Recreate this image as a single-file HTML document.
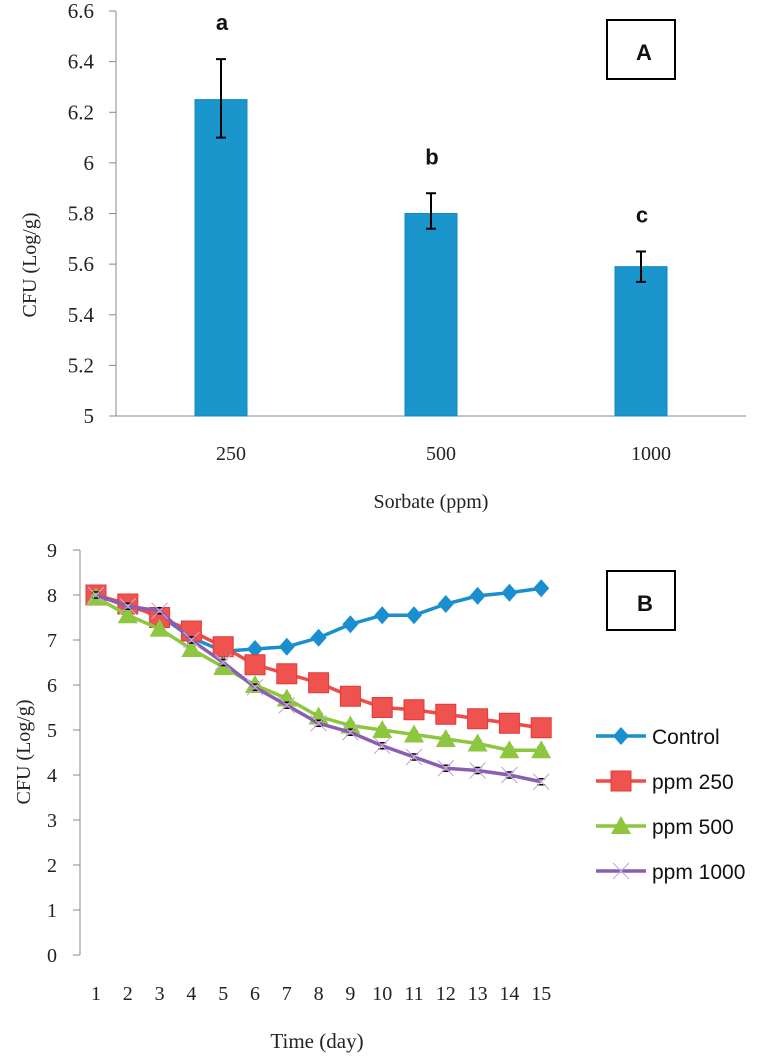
<!DOCTYPE html>
<html><head><meta charset="utf-8"><style>
body{margin:0;background:#fff;}
svg{display:block;}
.t{font-family:"Liberation Serif",serif;fill:#222;}
.s{font-family:"Liberation Sans",sans-serif;fill:#111;}
</style></head><body>
<svg id="c" width="762" height="1061" xmlns="http://www.w3.org/2000/svg"></svg>
<script>
// Chart A data
const catsA = ["250","500","1000"];
const valsA = [6.25, 5.80, 5.59];
const errHiA = [6.41, 5.88, 5.65];
const errLoA = [6.10, 5.74, 5.53];
const lettersA = ["a","b","c"];
const ticksA = [5,5.2,5.4,5.6,5.8,6,6.2,6.4,6.6];
// Chart B data
const days = [1,2,3,4,5,6,7,8,9,10,11,12,13,14,15];
const ctrl = [8.0,7.75,7.55,7.05,6.75,6.8,6.85,7.05,7.35,7.55,7.55,7.8,7.98,8.05,8.15];
const p250 = [8.0,7.8,7.5,7.2,6.85,6.45,6.25,6.05,5.75,5.5,5.45,5.35,5.25,5.15,5.05];
const p500 = [7.95,7.55,7.25,6.8,6.4,6.0,5.7,5.3,5.1,5.0,4.9,4.8,4.7,4.55,4.55];
const p1000 = [8.0,7.75,7.65,7.0,6.5,5.95,5.55,5.15,4.95,4.65,4.4,4.15,4.1,4.0,3.85];
const ticksB = [0,1,2,3,4,5,6,7,8,9];

const svg=document.getElementById('c');
const NS="http://www.w3.org/2000/svg";
function mk(tag,attrs,parent){const e=document.createElementNS(NS,tag);for(const k in attrs)e.setAttribute(k,attrs[k]);(parent||svg).appendChild(e);return e;}
function txt(s,attrs){const e=mk('text',attrs);e.textContent=s;return e;}

// ---- Chart A ----
const ayA=v=>416-(v-5)*253.1;
const axA=i=>116+210*(i+0.5);
let e=mk('line',{x1:116,y1:11,x2:116,y2:416,stroke:'#888','stroke-width':1});

e=mk('line',{x1:109,y1:416,x2:746,y2:416,stroke:'#888','stroke-width':1});

ticksA.forEach(t=>{
  mk('line',{x1:109,y1:ayA(t),x2:116,y2:ayA(t),stroke:'#888'});
  e=txt(String(t),{x:94,y:ayA(t)+7,class:'t','font-size':21,'text-anchor':'end'});
  
});
catsA.forEach((c,i)=>{
  const x=axA(i);
  e=mk('rect',{x:x-26,y:ayA(valsA[i]),width:52,height:416-ayA(valsA[i]),fill:'#1b96cc',stroke:'#0f86c0'});
  
  e=mk('path',{d:`M${x-5} ${ayA(errHiA[i])}H${x+5}M${x} ${ayA(errHiA[i])}V${ayA(errLoA[i])}M${x-5} ${ayA(errLoA[i])}H${x+5}`,stroke:'#000','stroke-width':2,fill:'none'});
  
  e=txt(lettersA[i],{x:x+1,y:ayA(errHiA[i])-29,class:'s','font-size':22,'font-weight':'bold','text-anchor':'middle'});
  
  e=txt(c,{x:x+10,y:460,class:'t','font-size':20,'text-anchor':'middle'});
  
});
e=txt('Sorbate (ppm)',{x:431,y:508,class:'t','font-size':20,'text-anchor':'middle'});

e=txt('CFU (Log/g)',{x:0,y:0,class:'t','font-size':20,'text-anchor':'middle',transform:'translate(36,265) rotate(-90)'});

e=mk('rect',{x:607,y:20,width:68,height:59,fill:'none',stroke:'#000','stroke-width':2});

e=txt('A',{x:644,y:60,class:'s','font-size':22,'font-weight':'bold','text-anchor':'middle'});


// ---- Chart B ----
const ayB=v=>955-v*45;
const axB=d=>96+(d-1)*31.8;
e=mk('line',{x1:80,y1:550,x2:80,y2:955,stroke:'#888'});

ticksB.forEach(t=>{
  mk('line',{x1:73,y1:ayB(t),x2:80,y2:ayB(t),stroke:'#888'});
  e=txt(String(t),{x:57,y:ayB(t)+7,class:'t','font-size':20,'text-anchor':'end'});
  
});
days.forEach(d=>{
  e=txt(String(d),{x:axB(d),y:1000,class:'t','font-size':20,'text-anchor':'middle'});
  
});
e=txt('Time (day)',{x:317,y:1048,class:'t','font-size':21,'text-anchor':'middle'});

e=txt('CFU (Log/g)',{x:0,y:0,class:'t','font-size':20,'text-anchor':'middle',transform:'translate(30,752) rotate(-90)'});


function marker(kind,x,y,col,g){
  if(kind==='d') mk('path',{d:`M${x} ${y-9}L${x+8} ${y}L${x} ${y+9}L${x-8} ${y}Z`,fill:col},g);
  else if(kind==='s') mk('rect',{x:x-10,y:y-10,width:20,height:20,fill:'#ef5350',stroke:'#e53935'},g);
  else if(kind==='t') mk('path',{d:`M${x} ${y-10}L${x+10} ${y+8}L${x-10} ${y+8}Z`,fill:col},g);
  else mk('path',{d:`M${x-8} ${y-8}L${x+8} ${y+8}M${x+8} ${y-8}L${x-8} ${y+8}`,stroke:'#c9a8dc','stroke-width':1.2},g);
}
const series=[[ctrl,'#1a8fd0','d','control'],[p250,'#ef4b47','s','ppm-250'],[p500,'#8dc63f','t','ppm-500'],[p1000,'#8a5eb0','x','ppm-1000']];
series.forEach(([vals,col,k,name])=>{
  const g=mk('g',{});
  
  const pts=vals.map((v,i)=>axB(days[i])+','+ayB(v)).join(' ');
  mk('polyline',{points:pts,fill:'none',stroke:col,'stroke-width':3.5},g);
  vals.forEach((v,i)=>{
    const x=axB(days[i]),y=ayB(v);
    mk('path',{d:`M${x-4} ${y-3}H${x+4}M${x-4} ${y+3}H${x+4}`,stroke:'#000','stroke-width':1.5},g);
    marker(k,x,y,col,g);
  });
});
const legNames=['Control','ppm 250','ppm 500','ppm 1000'];
series.forEach(([vals,col,k,name],i)=>{
  const y=736+i*45;
  const g=mk('g',{});
  
  mk('line',{x1:596,y1:y,x2:646,y2:y,stroke:col,'stroke-width':3.5},g);
  marker(k,621,y,col,g);
  const t=mk('text',{x:652,y:y+8,class:'s','font-size':21},g);t.textContent=legNames[i];
});
e=mk('rect',{x:607,y:571,width:68,height:59,fill:'none',stroke:'#000','stroke-width':2});

e=txt('B',{x:645,y:611,class:'s','font-size':22,'font-weight':'bold','text-anchor':'middle'});

</script>
</body></html>
